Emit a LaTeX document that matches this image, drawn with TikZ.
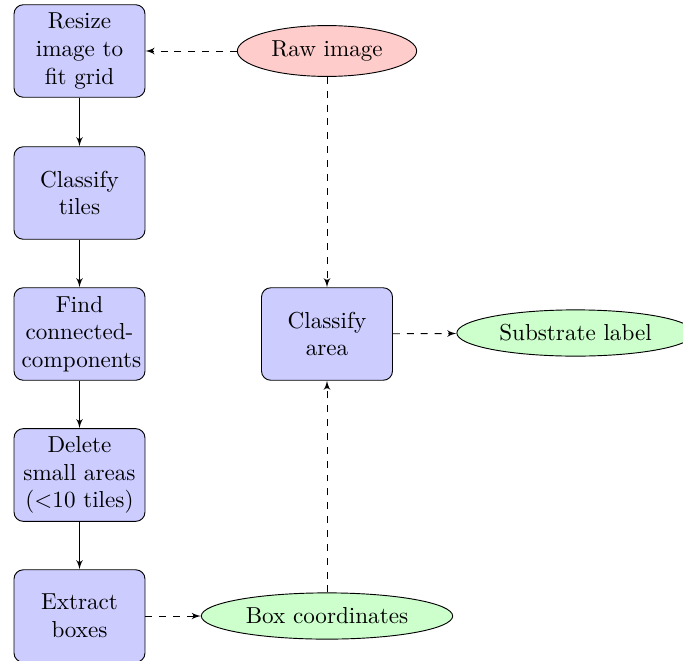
\documentclass[tikz,border=0pt]{standalone}
\usetikzlibrary{shapes.geometric,arrows}
\begin{document}
\begin{tikzpicture}[x=0.4326pt,y=-0.4326pt,
  block/.style={rectangle, draw, fill=blue!20, text width=5em, align=center,
    rounded corners, minimum height=4em},
  cloud/.style={ellipse, draw, minimum height=2em},
  flow/.style={draw, -latex'},
  link/.style={draw, dashed, -latex'}]
  \useasboundingbox (0,0) rectangle (683,660);
  \clip (0,0) rectangle (683,660);
  % processing pipeline on the left
  \node[block] (resize)   at (79.5,51)  {Resize image to fit grid};
  \node[block] (tiles)    at (79.5,193) {Classify tiles};
  \node[block] (find)     at (79.5,334) {Find connected-components};
  \node[block] (delete)   at (79.5,475) {Delete small areas (<10 tiles)};
  \node[block] (extract)  at (79.5,616) {Extract boxes};
  % inputs, outputs and area classification
  \node[cloud, fill=red!20]   (raw)       at (327,51)  {Raw image};
  \node[block]                (area)      at (327,334) {Classify area};
  \node[cloud, fill=green!20] (substrate) at (575.5,333) {Substrate label};
  \node[cloud, fill=green!20] (coords)    at (327,616) {Box coordinates};
  % connectors
  \path[flow] (resize) -- (tiles);
  \path[flow] (tiles) -- (find);
  \path[flow] (find) -- (delete);
  \path[flow] (delete) -- (extract);
  \path[link] (raw) -- (resize);
  \path[link] (raw) -- (area);
  \path[link] (extract) -- (coords);
  \path[link] (coords) -- (area);
  \path[link] (area) -- (substrate);
\end{tikzpicture}
\end{document}
